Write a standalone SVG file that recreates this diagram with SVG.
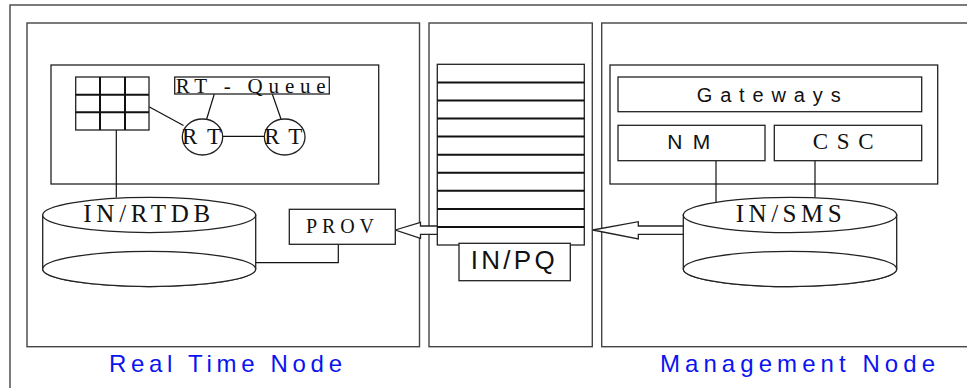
<svg xmlns="http://www.w3.org/2000/svg" width="967" height="388" viewBox="0 0 967 388">
  <style>
    .frame { fill: none; stroke: #444; stroke-width: 1.4; }
    .box { fill: #fff; stroke: #222; stroke-width: 1.3; }
    .ln { fill: none; stroke: #111; stroke-width: 1.2; }
    .serif { font-family: "Liberation Serif", "Times New Roman", serif; fill: #111; }
    .sans { font-family: "Liberation Sans", Arial, sans-serif; fill: #111; }
    .caption { font-family: "Liberation Sans", Arial, sans-serif; fill: #0a14f0; font-size: 24px; }
    .grid { fill: none; stroke: #111; stroke-width: 2; }
  </style>

  <rect width="967" height="388" fill="#fff"/>

  <!-- outer frame (continues past the right and bottom edges) -->
  <g id="outer-frame">
    <rect class="frame" x="10" y="5" width="980" height="400"/>
  </g>

  <!-- Real Time Node -->
  <g id="real-time-node">
    <rect class="frame" x="27" y="23" width="392.5" height="323.7"/>
    <rect class="box" x="51" y="65" width="327.7" height="119"/>
    <text class="caption" x="109" y="371.7" textLength="233" lengthAdjust="spacing">Real Time Node</text>
  </g>

  <!-- Middle column holding the IN/PQ queue -->
  <g id="queue-column">
    <rect class="frame" x="429" y="23" width="163.3" height="323.7"/>
  </g>

  <!-- Management Node -->
  <g id="management-node">
    <rect class="frame" x="601.7" y="23" width="400" height="323.7"/>
    <rect class="box" x="610" y="65" width="327.7" height="119"/>
    <text class="caption" x="660" y="371.7" textLength="275" lengthAdjust="spacing">Management Node</text>
  </g>

  <!-- connectors -->
  <g id="connectors">
    <!-- table to first RT -->
    <line class="ln" x1="149" y1="106.7" x2="183.5" y2="125.5"/>
    <!-- RT-Queue to RTs -->
    <line class="ln" x1="214.3" y1="94" x2="206.7" y2="119"/>
    <line class="ln" x1="272.3" y1="94" x2="281" y2="119"/>
    <!-- RT to RT -->
    <line class="ln" x1="222.7" y1="136.3" x2="264.4" y2="136.3"/>
    <!-- table down to IN/RTDB -->
    <line class="ln" x1="116.3" y1="130" x2="116.3" y2="197.5"/>
    <!-- PROV to IN/RTDB -->
    <polyline class="ln" points="338.3,244.3 338.3,262.7 255.7,262.7"/>
    <!-- NM and CSC to IN/SMS -->
    <line class="ln" x1="716" y1="160.7" x2="716" y2="202.7"/>
    <line class="ln" x1="815" y1="160.7" x2="815" y2="197.5"/>
    <!-- hollow arrow: IN/PQ to PROV -->
    <polygon class="box" points="395.3,230 420.5,222.3 420.5,226 444.3,226 444.3,234.3 420.5,234.3 420.5,238.3" stroke-width="1.1"/>
    <!-- hollow arrow: IN/SMS to IN/PQ -->
    <polygon class="box" points="592.8,230 638.3,221.7 638.3,226 684,226 684,234.3 638.3,234.3 638.3,239" stroke-width="1.1"/>
  </g>

  <!-- 3x3 table -->
  <g id="table">
    <rect class="box" x="75.7" y="77" width="73.3" height="53" stroke-width="1.5"/>
    <path class="grid" d="M100,77V130M125,77V130M75.7,94.7H149M75.7,112.3H149"/>
  </g>

  <!-- RT - Queue label box -->
  <g id="rt-queue">
    <rect class="box" x="174.7" y="77" width="154.6" height="17" fill="#f4f4f4" stroke-width="1.1"/>
    <text class="serif" x="175.7" y="92.7" font-size="21" textLength="150" lengthAdjust="spacing">RT - Queue</text>
  </g>

  <!-- RT processes -->
  <g id="rt-1">
    <ellipse class="box" cx="202.5" cy="137" rx="20.2" ry="18" stroke-width="1.1"/>
    <text class="serif" x="182" y="144" font-size="23" textLength="39" lengthAdjust="spacing">RT</text>
  </g>
  <g id="rt-2">
    <ellipse class="box" cx="284.7" cy="137" rx="20.3" ry="18" stroke-width="1.1"/>
    <text class="serif" x="264.3" y="144" font-size="23" textLength="38" lengthAdjust="spacing">RT</text>
  </g>

  <!-- IN/RTDB database -->
  <g id="in-rtdb">
    <path class="box" d="M42.7,215 V269 A106.5,17.6 0 0 0 255.7,269 V215 Z" stroke-width="1.1"/>
    <ellipse class="box" cx="149.2" cy="269" rx="106.5" ry="17.6" stroke-width="1.1"/>
    <ellipse class="box" cx="149.2" cy="215" rx="106.5" ry="17.6" stroke-width="1.1"/>
    <text class="serif" x="83.3" y="222" font-size="25" textLength="127" lengthAdjust="spacing">IN/RTDB</text>
  </g>

  <!-- PROV -->
  <g id="prov">
    <rect class="box" x="289.3" y="209.3" width="106" height="35" stroke-width="1.1"/>
    <text class="serif" x="306" y="233.3" font-size="20" textLength="68" lengthAdjust="spacing">PROV</text>
  </g>

  <!-- IN/PQ stack -->
  <g id="in-pq">
    <rect class="box" x="437.3" y="64.3" width="147" height="180.7" stroke-width="1.1"/>
    <path class="grid" stroke-width="1.6" d="M437.3,82.4H584.3M437.3,100.4H584.3M437.3,118.5H584.3M437.3,136.6H584.3M437.3,154.7H584.3M437.3,172.7H584.3M437.3,190.8H584.3M437.3,208.9H584.3M437.3,227H584.3"/>
    <rect class="box" x="459" y="243.3" width="111.3" height="37.4" stroke-width="1.1"/>
    <text class="sans" x="470.7" y="269.3" font-size="26" textLength="84" lengthAdjust="spacing">IN/PQ</text>
  </g>

  <!-- Gateways / NM / CSC -->
  <g id="gateways">
    <rect class="box" x="618" y="77" width="303.7" height="34.7" stroke-width="1.1"/>
    <text class="sans" x="696.7" y="101.7" font-size="20" textLength="144" lengthAdjust="spacing">Gateways</text>
  </g>
  <g id="nm">
    <rect class="box" x="618" y="125.3" width="147" height="35.4" stroke-width="1.1"/>
    <text class="sans" x="667.3" y="149.3" font-size="21" textLength="43" lengthAdjust="spacing">NM</text>
  </g>
  <g id="csc">
    <rect class="box" x="774.3" y="125.3" width="147.4" height="35.4" stroke-width="1.1"/>
    <text class="serif" x="812.7" y="149.3" font-size="23" textLength="61" lengthAdjust="spacing">CSC</text>
  </g>

  <!-- IN/SMS database -->
  <g id="in-sms">
    <path class="box" d="M683.3,215 V269 A106.7,17.6 0 0 0 896.7,269 V215 Z" stroke-width="1.1"/>
    <ellipse class="box" cx="790" cy="269" rx="106.7" ry="17.6" stroke-width="1.1"/>
    <ellipse class="box" cx="790" cy="215" rx="106.7" ry="17.6" stroke-width="1.1"/>
    <text class="serif" x="735.7" y="222" font-size="25" textLength="106" lengthAdjust="spacing">IN/SMS</text>
  </g>
</svg>
